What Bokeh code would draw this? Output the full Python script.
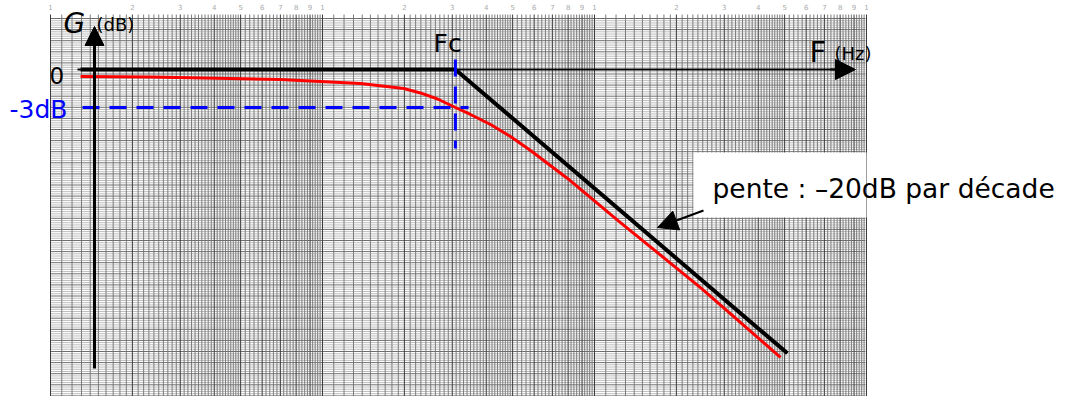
import numpy as np
from bokeh.plotting import figure
from bokeh.models import Label, Arrow, NormalHead, Range1d
from bokeh.core.properties import value
from bokeh.embed import file_html
from bokeh.resources import INLINE

# ---------------- data ----------------
freq_asym = [1.29, 30.8, 512.0]          # asymptotic (straight-line) Bode plot
gain_asym = [0.0, 0.0, -22.4]
freq_real = [1.29, 2.33, 7.01, 13.8, 19.9, 22.9, 26.5, 30.8, 35.0, 41.5,
             49.1, 58.2, 79.6, 124.6, 245.3, 482.9]  # real response
gain_real = [-0.55, -0.59, -0.79, -1.10, -1.50, -1.85, -2.33, -3.0, -3.55,
             -4.34, -5.29, -6.39, -8.60, -12.08, -17.21, -22.73]
fc = 30.8
g_cut = -3.0
decades = [1, 10, 100]
paper_labels = ["1", "2", "3", "4", "5", "6", "7", "8", "9"]

# ---------------- layout helpers (page pixels -> data) ----------------
W, H, M = 1064, 396, 0
X_F1, DEC = 50.0, 272.0
Y_0DB, PX_DB = 69.0, 12.67


def fx(px):
    return 10 ** ((px - X_F1) / DEC)


def gy(py):
    return -(py - Y_0DB) / PX_DB


p = figure(width=W, height=H, x_axis_type="log",
           x_range=Range1d(fx(M), fx(M + W)), y_range=Range1d(gy(M + H), gy(M)),
           x_axis_location=None, y_axis_location=None,
           toolbar_location=None, output_backend="svg", min_border=0)
p.grid.visible = False
p.outline_line_color = None
p.background_fill_color = "white"
p.border_fill_color = "white"

# ---------------- semi-log paper ----------------
gx0, gx1 = fx(50), fx(865)
gtop, gbot = gy(14), gy(400)
rows = np.arange(18, 400, 2.22)
light = [gy(r) for i, r in enumerate(rows) if i % 5]
major = [gy(r) for i, r in enumerate(rows) if i % 5 == 0]
p.segment(x0=gx0, x1=gx1, y0=light, y1=light, line_color="#bdbdbd", line_width=1)

mults = [round(m, 1) for m in list(np.arange(1, 5, 0.1)) + list(np.arange(5, 10, 0.2))]
vminor, vmajor = [], []
for d in decades:
    for m in mults:
        (vmajor if abs(m - round(m)) < 1e-6 else vminor).append(d * m)
vmajor.append(1000)
p.segment(x0=vminor, x1=vminor, y0=gtop, y1=gbot, line_color="#7c7c7c", line_width=1)
p.segment(x0=gx0, x1=gx1, y0=major, y1=major, line_color="#6e6e6e", line_width=1)
p.segment(x0=vmajor, x1=vmajor, y0=gtop, y1=gbot, line_color="#3c3c3c", line_width=1)

lab_x, lab_t = [], []
for d in decades:
    for i, t in enumerate(paper_labels):
        lab_x.append(d * (i + 1)); lab_t.append(t)
lab_x.append(1000); lab_t.append("1")
p.text(x=lab_x, y=gy(6), text=lab_t, text_font=value("DejaVu Sans"),
       text_font_size="7px", text_color="#aaaaaa", text_align="center",
       text_baseline="middle")

# white box behind the slope annotation
p.quad(left=fx(693), right=fx(866), top=gy(152), bottom=gy(217),
       fill_color="white", line_color=None)

# ---------------- axes ----------------
p.line([fx(77), fx(840)], [0, 0], line_color="black", line_width=2)
p.add_layout(Arrow(end=NormalHead(size=20, fill_color="black", line_color="black"),
                   x_start=fx(830), y_start=0, x_end=fx(855), y_end=0,
                   line_color="black", line_width=2))
p.add_layout(Arrow(end=NormalHead(size=19, fill_color="black", line_color="black"),
                   x_start=fx(94), y_start=gy(368), x_end=fx(94), y_end=gy(26),
                   line_color="black", line_width=3))

# ---------------- curves ----------------
p.line(freq_real, gain_real, line_color="#ff0000", line_width=3,
       line_join="round")
p.line(freq_asym, gain_asym, line_color="black", line_width=4)

p.line([fx(82), fx(468)], [g_cut, g_cut], line_color="#0000ff", line_width=3,
       line_dash="17 10")
p.line([fc, fc], [gy(59), gy(148)], line_color="#0000ff", line_width=3,
       line_dash="17 10")

p.add_layout(Arrow(end=NormalHead(size=20, fill_color="black", line_color="black"),
                   x_start=fx(703), y_start=gy(210), x_end=fx(657), y_end=gy(227),
                   line_color="black", line_width=2))

# ---------------- texts ----------------
FONT = "DejaVu Sans"


def lab(px, py, text, size, color="black", style="normal"):
    p.add_layout(Label(x=fx(px), y=gy(py), text=text, text_font=FONT,
                       text_font_size=f"{size}px", text_color=color,
                       text_font_style=style, text_align="left",
                       text_baseline="middle"))


lab(63, 23, "G", 28, style="italic")
lab(96, 24, "(dB)", 18)
lab(49, 75, "0", 23)
lab(9, 109, "-3dB", 25, color="#0000ff")
lab(433, 43, "Fc", 25)
lab(809, 51, "F", 29)
lab(834, 53, "(Hz)", 18)
lab(712, 188, "pente : \u201320dB par d\u00e9cade", 26.5)

open("out.html", "w").write(file_html(p, INLINE))
